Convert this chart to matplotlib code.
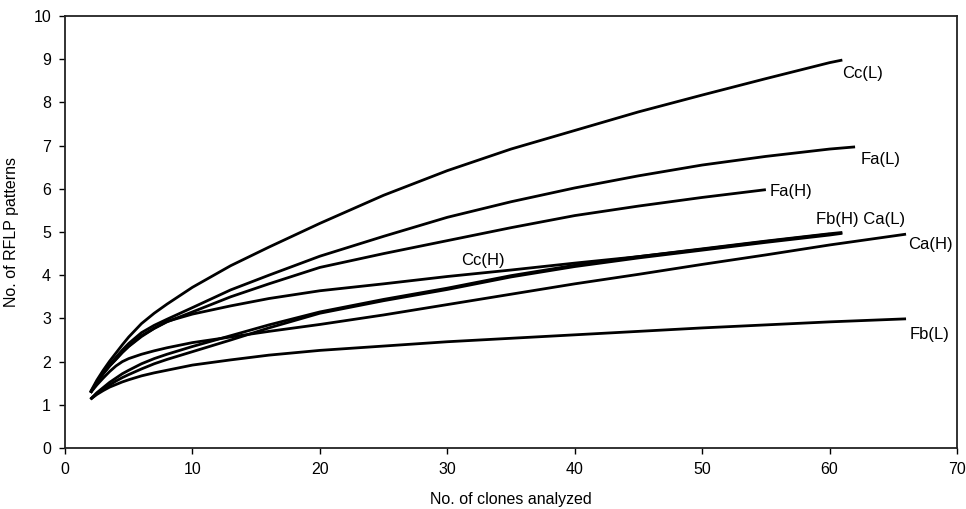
import matplotlib
matplotlib.use("Agg")
import matplotlib.pyplot as plt

plt.rcParams["font.family"] = ["Liberation Sans", "DejaVu Sans"]

# clones analyzed (x) and RFLP patterns (y) for each library
x_cc_l = [2, 2.5, 3, 3.5, 4, 4.5, 5, 6, 7, 8, 10, 13, 16, 20, 25, 30, 35, 40, 45, 50, 55, 60, 61]
y_cc_l = [1.3, 1.57, 1.8, 2.01, 2.2, 2.39, 2.57, 2.88, 3.12, 3.33, 3.72, 4.22, 4.65, 5.2, 5.85, 6.42, 6.92, 7.35, 7.78, 8.17, 8.55, 8.92, 8.98]

x_fa_l = [2, 2.5, 3, 3.5, 4, 4.5, 5, 6, 7, 8, 10, 13, 16, 20, 25, 30, 35, 40, 45, 50, 55, 60, 62]
y_fa_l = [1.28, 1.53, 1.74, 1.93, 2.1, 2.27, 2.42, 2.67, 2.84, 2.98, 3.25, 3.66, 4.0, 4.44, 4.9, 5.34, 5.7, 6.02, 6.3, 6.55, 6.75, 6.92, 6.97]

x_fa_h = [2, 2.5, 3, 3.5, 4, 4.5, 5, 6, 7, 8, 10, 13, 16, 20, 25, 30, 35, 40, 45, 50, 55]
y_fa_h = [1.28, 1.52, 1.72, 1.9, 2.06, 2.22, 2.36, 2.6, 2.77, 2.92, 3.15, 3.5, 3.8, 4.18, 4.5, 4.8, 5.1, 5.38, 5.6, 5.8, 5.98]

x_cc_h = [2, 2.5, 3, 3.5, 4, 4.5, 5, 6, 7, 8, 10, 13, 16, 20, 25, 30, 35, 40, 45, 50, 55, 60]
y_cc_h = [1.28, 1.52, 1.72, 1.9, 2.05, 2.21, 2.35, 2.58, 2.77, 2.93, 3.1, 3.29, 3.46, 3.64, 3.8, 3.97, 4.12, 4.28, 4.43, 4.6, 4.78, 4.95]

x_fb_h = [2, 2.5, 3, 3.5, 4, 4.5, 5, 6, 7, 8, 10, 13, 16, 20, 25, 30, 35, 40, 45, 50, 55, 60, 61]
y_fb_h = [1.13, 1.28, 1.4, 1.52, 1.62, 1.72, 1.8, 1.95, 2.07, 2.17, 2.35, 2.6, 2.85, 3.15, 3.44, 3.7, 3.99, 4.23, 4.43, 4.61, 4.79, 4.96, 4.99]

x_ca_l = [2, 2.5, 3, 3.5, 4, 4.5, 5, 6, 7, 8, 10, 13, 16, 20, 25, 30, 35, 40, 45, 50, 55, 60, 61]
y_ca_l = [1.13, 1.26, 1.36, 1.46, 1.55, 1.63, 1.7, 1.83, 1.95, 2.05, 2.23, 2.5, 2.78, 3.12, 3.41, 3.67, 3.96, 4.2, 4.4, 4.58, 4.76, 4.93, 4.97]

x_ca_h = [2, 2.5, 3, 3.5, 4, 4.5, 5, 6, 7, 8, 10, 13, 16, 20, 25, 30, 35, 40, 45, 50, 55, 60, 66]
y_ca_h = [1.28, 1.46, 1.62, 1.77, 1.9, 2.0, 2.07, 2.17, 2.25, 2.32, 2.44, 2.57, 2.7, 2.86, 3.08, 3.32, 3.56, 3.8, 4.02, 4.25, 4.47, 4.7, 4.95]

x_fb_l = [2, 2.5, 3, 3.5, 4, 4.5, 5, 6, 7, 8, 10, 13, 16, 20, 25, 30, 35, 40, 45, 50, 55, 60, 66]
y_fb_l = [1.13, 1.24, 1.33, 1.41, 1.47, 1.53, 1.58, 1.67, 1.74, 1.8, 1.92, 2.04, 2.15, 2.26, 2.36, 2.46, 2.54, 2.62, 2.7, 2.78, 2.85, 2.92, 2.99]

curves = [
    (x_cc_l, y_cc_l), (x_fa_l, y_fa_l), (x_fa_h, y_fa_h), (x_cc_h, y_cc_h),
    (x_fb_h, y_fb_h), (x_ca_l, y_ca_l), (x_ca_h, y_ca_h), (x_fb_l, y_fb_l),
]

# curve labels and where they sit
label_text = ["Cc(L)", "Fa(L)", "Fa(H)", "Fb(H) Ca(L)", "Ca(H)", "Fb(L)", "Cc(H)"]
label_x = [61.0, 62.4, 55.3, 58.9, 66.2, 66.3, 31.1]
label_y = [8.68, 6.67, 5.93, 5.3, 4.72, 2.62, 4.35]

fig = plt.figure(figsize=(9.66, 5.09), dpi=100)
ax = fig.add_axes([0.0673, 0.1198, 0.9234, 0.8488])

for xs, ys in curves:
    ax.plot(xs, ys, color="black", lw=2.0, solid_capstyle="butt",
            solid_joinstyle="round")

for t, lx, ly in zip(label_text, label_x, label_y):
    ax.text(lx, ly, t, fontsize=12, ha="left", va="center")

ax.set_xlim(0, 70)
ax.set_ylim(0, 10)
ax.set_xticks(range(0, 71, 10))
ax.set_yticks(range(0, 11))
ax.tick_params(direction="out", length=4, width=1, labelsize=11.5, pad=6,
               top=False, right=False)
for s in ax.spines.values():
    s.set_linewidth(1.3)
    s.set_color("#222222")

ax.set_xlabel("No. of clones analyzed", fontsize=11.5, labelpad=11)
ax.set_ylabel("No. of RFLP patterns", fontsize=11.5, labelpad=10)

fig.savefig("out.png", dpi=100)
